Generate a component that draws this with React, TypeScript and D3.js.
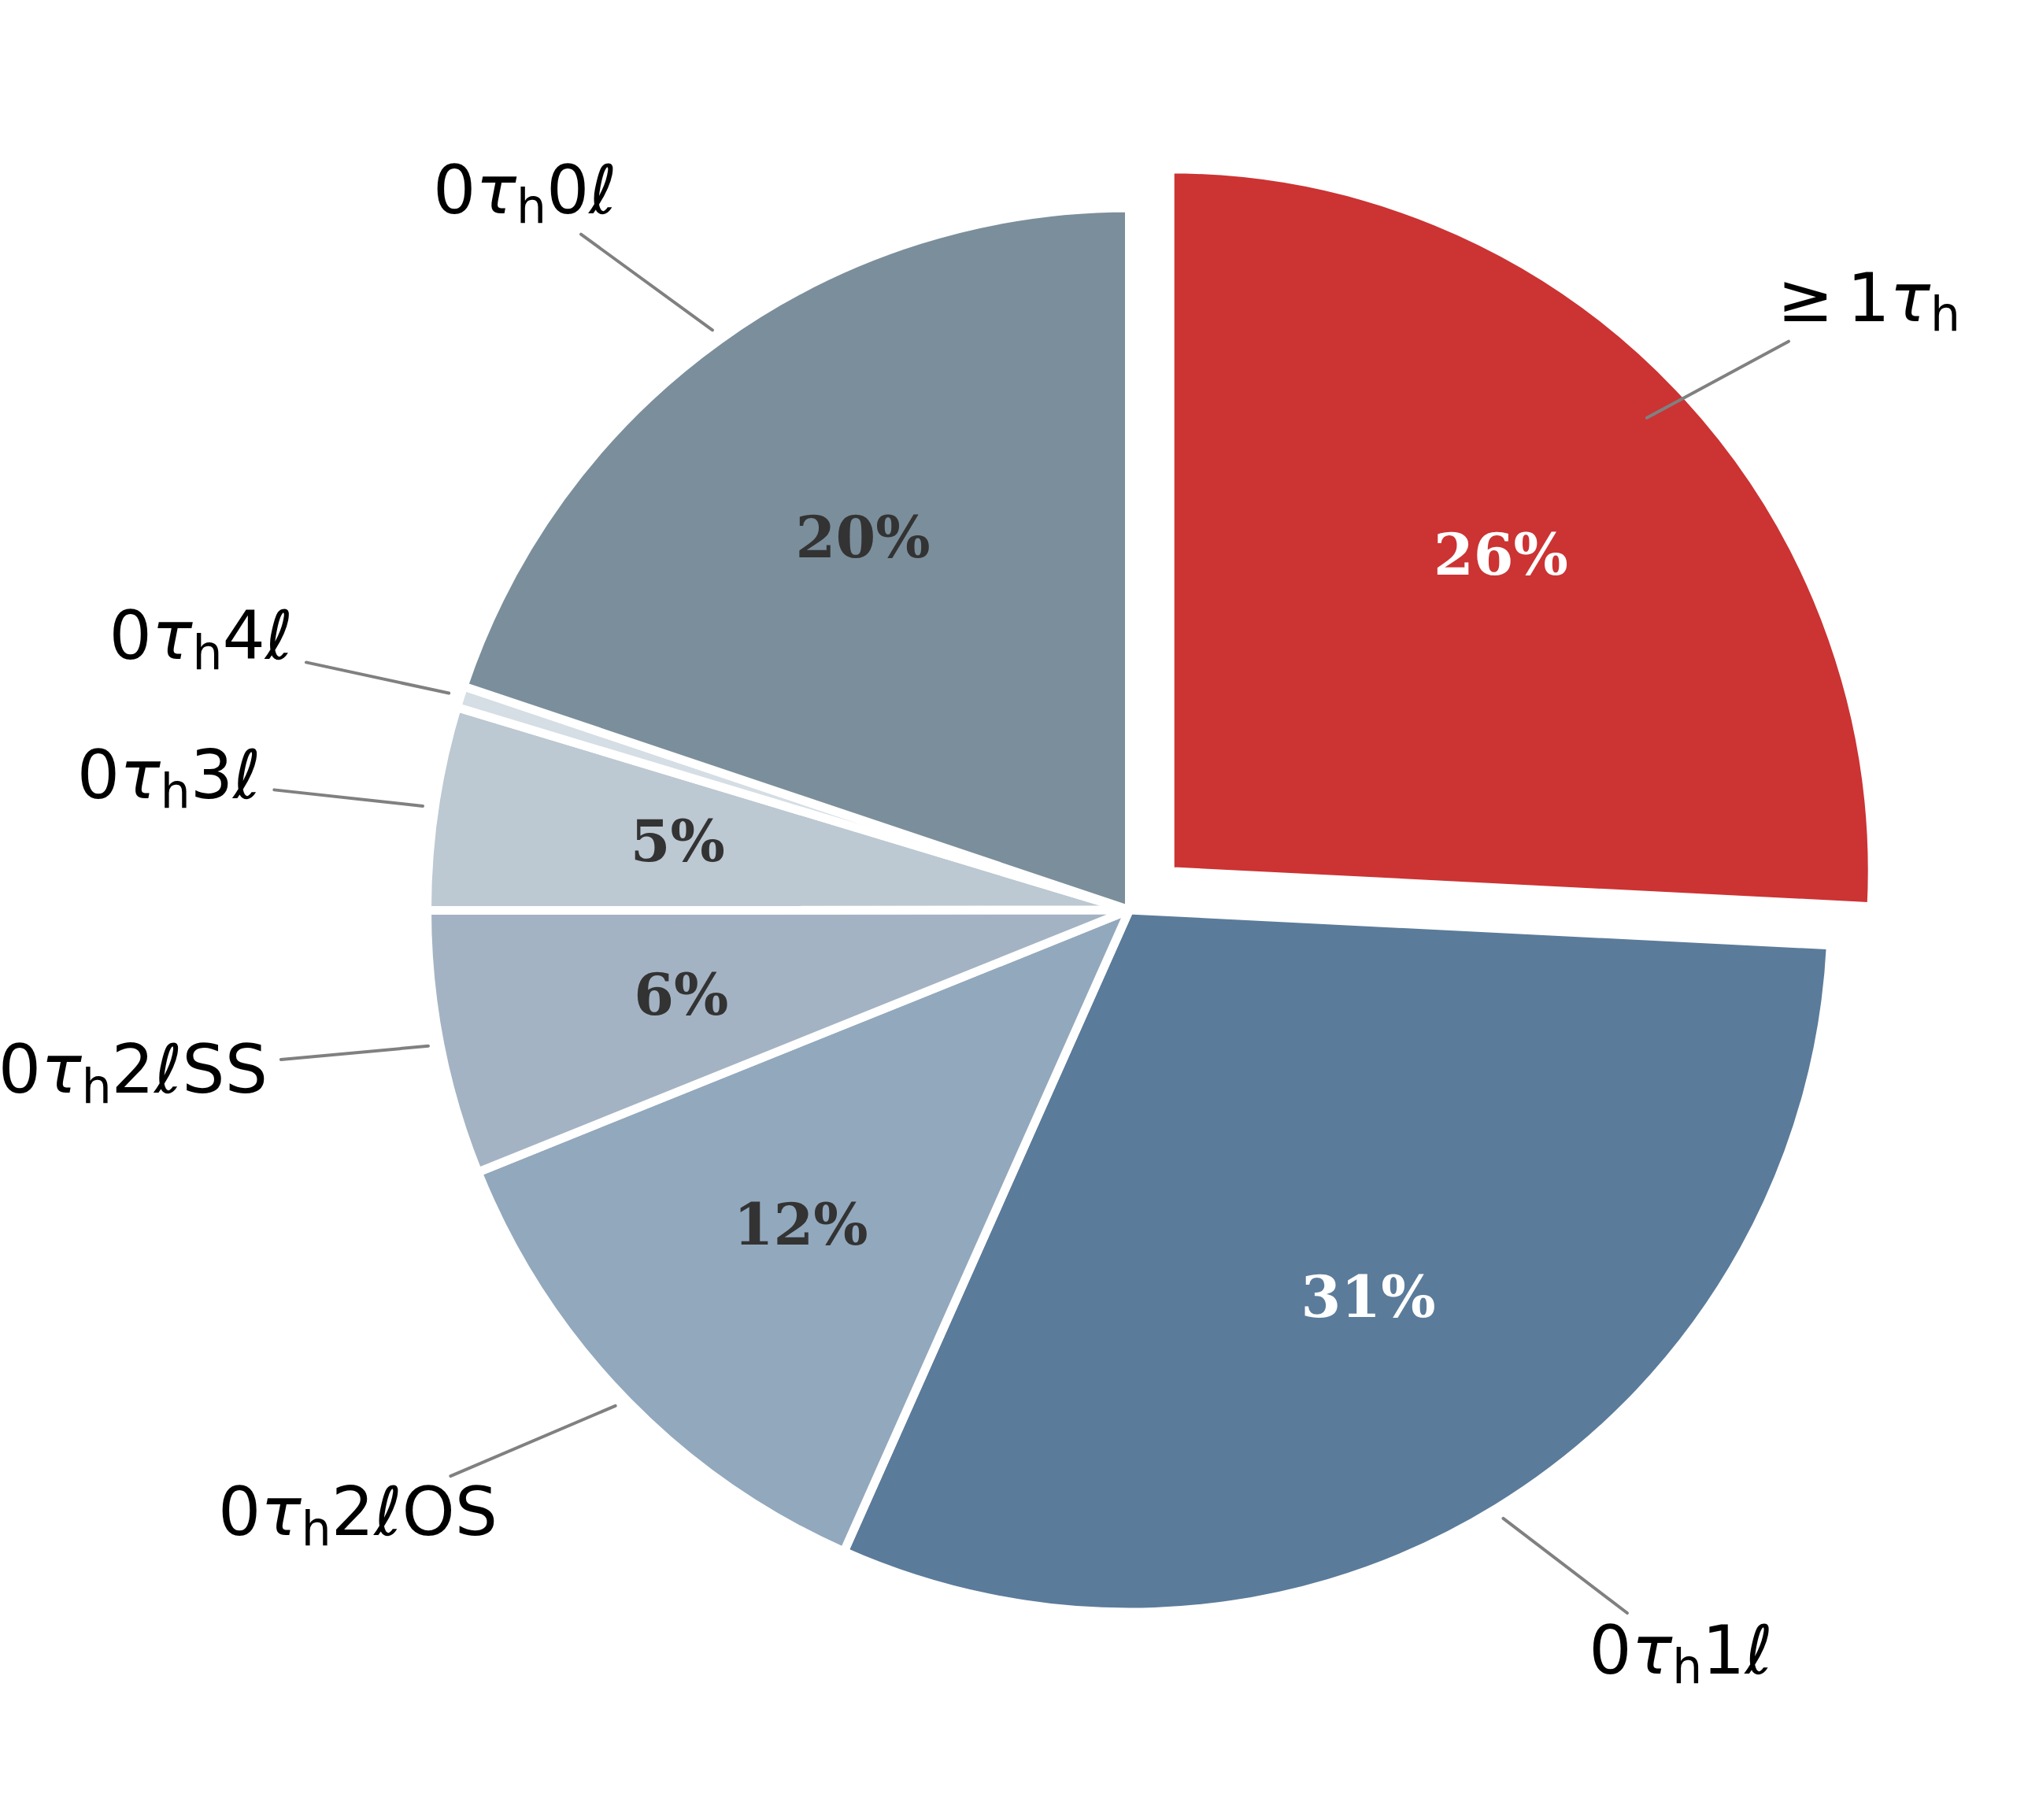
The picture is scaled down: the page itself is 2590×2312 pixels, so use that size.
import React, { useEffect, useRef } from 'react';
import * as d3 from 'd3';

// ---- data ----
const categories = ['≥1τh', '0τh1ℓ', '0τh2ℓOS', '0τh2ℓSS', '0τh3ℓ', '0τh4ℓ', '0τh0ℓ'];
const shares = [25.8, 30.86, 12.25, 6.08, 4.67, 0.5, 19.84];
const sliceColors = ['#cc3333', '#5b7b9a', '#92a8bd', '#a3b3c3', '#bcc8d2', '#d5dee5', '#7b8e9b'];
const pctColors = ['#ffffff', '#ffffff', '#333333', '#333333', '#333333', '#333333', '#333333'];
const explode = [0.08, 0, 0, 0, 0, 0, 0];

// ---- layout ----
const W = 2590;
const H = 2312;
const CX = 1434.5;
const CY = 1156;
const R = 892;
const PCT_DIST = 0.65;
const LABEL_DIST = 1.25;
const LINE_START = 1.017;
const LABEL_SIZE = 85.5;
const PCT_SIZE = 73;
const PAD = 8.5;
const BASELINE_OFF = 20;
const REL_LEAD = 15;

type Seg = { t: string; italic?: boolean; sub?: boolean; gapAfter?: boolean };

function parseLabel(s: string): Seg[] {
  const segs: Seg[] = [];
  const chars = Array.from(s);
  chars.forEach((ch, i) => {
    if (ch === 'τ' || ch === 'ℓ') segs.push({ t: ch, italic: true });
    else if (ch === 'h' && chars[i - 1] === 'τ') segs.push({ t: ch, sub: true });
    else if (ch === '≥') segs.push({ t: ch, gapAfter: true });
    else segs.push({ t: ch });
  });
  return segs;
}

export default function App() {
  const ref = useRef<SVGSVGElement | null>(null);

  useEffect(() => {
    const svg = d3.select(ref.current);
    svg.selectAll('*').remove();
    const data = categories.map((c, i) => ({ c, v: shares[i], i }));
    const pie = d3
      .pie<any>()
      .sort(null)
      .value((d: any) => d.v)
      .startAngle(0)
      .endAngle(2 * Math.PI);
    const arcs = pie(data);
    const arc = d3.arc<any>().innerRadius(0).outerRadius(R);

    const g = svg.append('g').attr('transform', `translate(${CX},${CY})`);
    const wedges = g.append('g');
    const pcts = g.append('g');
    const lines = g.append('g');
    const labels = g.append('g');

    arcs.forEach((a: any) => {
      const i = a.index;
      const mid = (a.startAngle + a.endAngle) / 2;
      const off = explode[i] * R;
      const ox = Math.sin(mid) * off;
      const oy = -Math.cos(mid) * off;
      wedges
        .append('path')
        .attr('d', arc(a) as string)
        .attr('transform', `translate(${ox},${oy})`)
        .attr('fill', sliceColors[i])
        .attr('stroke', '#ffffff')
        .attr('stroke-width', 11)
        .attr('stroke-linejoin', 'round');

      if (a.data.v >= 1) {
        const px = ox + Math.sin(mid) * PCT_DIST * R;
        const py = oy - Math.cos(mid) * PCT_DIST * R;
        pcts
          .append('text')
          .attr('x', px)
          .attr('y', py)
          .attr('dy', '0.31em')
          .attr('text-anchor', 'middle')
          .attr('font-family', 'DejaVu Serif')
          .attr('font-weight', 'bold')
          .attr('font-size', PCT_SIZE)
          .attr('fill', pctColors[i])
          .text(`${Math.round(a.data.v)}%`);
      }

      // label text
      const lx = Math.sin(mid) * LABEL_DIST * R;
      const ly = -Math.cos(mid) * LABEL_DIST * R;
      const t = labels
        .append('text')
        .attr('x', 0)
        .attr('y', 0)
        .attr('font-family', 'DejaVu Sans')
        .attr('font-size', LABEL_SIZE)
        .attr('fill', '#000000');
      const segs = parseLabel(a.data.c);
      const lead = segs.length && segs[0].gapAfter ? REL_LEAD : 0;
      const subShift = 0.146 * LABEL_SIZE;
      let shifted = false;
      segs.forEach((s) => {
        const ts = t.append('tspan').text(s.t);
        if (s.italic) ts.attr('font-style', 'italic');
        if (s.sub) {
          ts.attr('font-size', LABEL_SIZE * 0.7).attr('dy', subShift);
          shifted = true;
        } else if (shifted) {
          ts.attr('dy', -subShift);
          shifted = false;
        }
        if (s.gapAfter) {
          t.append('tspan').text('\u2009');
        }
      });
      const node = t.node() as SVGTextElement;
      const bb = node.getBBox();
      const bw = bb.width + lead;
      const boxLeft = lx >= 0 ? lx : lx - bw;
      const tx = boxLeft + lead - bb.x;
      const baseline = ly + BASELINE_OFF;
      t.attr('transform', `translate(${tx},${baseline})`);
      // tight (ink-like) box used for the connector
      const bx0 = boxLeft - PAD;
      const bx1 = boxLeft + bw + PAD;
      const by0 = baseline - 0.74 * LABEL_SIZE - PAD;
      const by1 = baseline + subShift + 1 + PAD;
      const ccx = (bx0 + bx1) / 2;
      const ccy = (by0 + by1) / 2;

      // connector
      const sx = Math.sin(mid) * LINE_START * R;
      const sy = -Math.cos(mid) * LINE_START * R;
      const dx = ccx - sx;
      const dy = ccy - sy;
      const txs: number[] = [];
      if (dx !== 0) txs.push(dx > 0 ? (bx0 - sx) / dx : (bx1 - sx) / dx);
      if (dy !== 0) txs.push(dy > 0 ? (by0 - sy) / dy : (by1 - sy) / dy);
      const te = Math.max(...txs);
      const len = Math.hypot(dx, dy);
      const ex = sx + dx * te - (dx / len) * PAD;
      const ey = sy + dy * te - (dy / len) * PAD;
      lines
        .append('line')
        .attr('x1', sx)
        .attr('y1', sy)
        .attr('x2', ex)
        .attr('y2', ey)
        .attr('stroke', '#808080')
        .attr('stroke-width', 4)
        .attr('stroke-linecap', 'round');
    });
  }, []);

  return (
    <svg
      ref={ref}
      width={W}
      height={H}
      viewBox={`0 0 ${W} ${H}`}
      style={{ position: 'absolute', left: 0, top: 0, background: '#ffffff', display: 'block' }}
    />
  );
}
